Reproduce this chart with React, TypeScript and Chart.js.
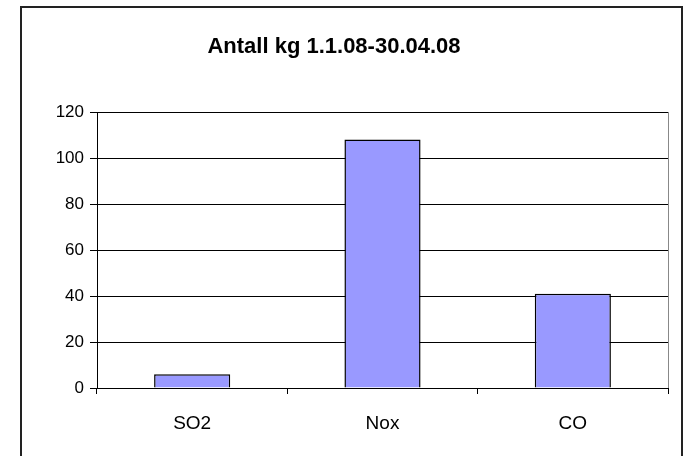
import React, { useEffect, useRef } from "react";
import { Chart, registerables } from "chart.js";

Chart.register(...registerables);

const categories = ["SO2", "Nox", "CO"];
const values = [6, 108, 41];
const titleText = "Antall kg 1.1.08-30.04.08";

const frame = {
  id: "frame",
  beforeDraw(chart: any) {
    const ctx = chart.ctx;
    ctx.save();
    ctx.fillStyle = "#ffffff";
    ctx.fillRect(0, 0, chart.width, chart.height);
    ctx.strokeStyle = "#222222";
    ctx.lineWidth = 2;
    ctx.strokeRect(21, 7, 661, 470);
    ctx.restore();
  },
  afterDatasetsDraw(chart: any) {
    const { ctx, chartArea } = chart;
    ctx.save();
    ctx.strokeStyle = "#888888";
    ctx.lineWidth = 1;
    ctx.beginPath();
    ctx.moveTo(chartArea.right + 0.5, chartArea.top);
    ctx.lineTo(chartArea.right + 0.5, chartArea.bottom);
    ctx.stroke();
    ctx.restore();
  },
};

export default function App() {
  const ref = useRef<HTMLCanvasElement | null>(null);
  useEffect(() => {
    if (!ref.current) return;
    const chart = new Chart(ref.current, {
      type: "bar",
      data: {
        labels: categories,
        datasets: [
          {
            data: values,
            backgroundColor: "#9999FF",
            borderColor: "#000000",
            borderWidth: 1.5,
            barPercentage: 0.4,
            categoryPercentage: 1,
          },
        ],
      },
      options: {
        responsive: false,
        animation: false,
        devicePixelRatio: 1,
        layout: { padding: { left: 0, right: 19, top: 0, bottom: 0 } },
        plugins: {
          legend: { display: false },
          tooltip: { enabled: false },
          title: {
            display: true,
            text: titleText,
            color: "#000000",
            font: { family: "Liberation Sans, Arial, sans-serif", size: 22, weight: "bold", lineHeight: 1.2 },
            padding: { top: 34, bottom: 51.6 },
          },
        },
        scales: {
          x: {
            afterFit: (s: any) => {
              s.height = 68;
            },
            border: { color: "#000000", width: 1 },
            grid: { drawOnChartArea: false, color: "#000000", tickLength: 6, offset: true },
            ticks: {
              color: "#000000",
              font: { family: "Liberation Sans, Arial, sans-serif", size: 19 },
              padding: 18,
            },
          },
          y: {
            min: 0,
            max: 120,
            afterFit: (s: any) => {
              s.width = 97;
            },
            border: { color: "#000000", width: 1 },
            grid: { color: "#000000", tickLength: 7 },
            ticks: {
              stepSize: 20,
              color: "#000000",
              font: { family: "Liberation Sans, Arial, sans-serif", size: 17 },
              padding: 6,
            },
          },
        },
      },
      plugins: [frame],
    });
    return () => chart.destroy();
  }, []);
  return (
    <div style={{ position: "fixed", left: 0, top: 0, width: 687, height: 456 }}>
      <canvas ref={ref} width={687} height={456} />
    </div>
  );
}
